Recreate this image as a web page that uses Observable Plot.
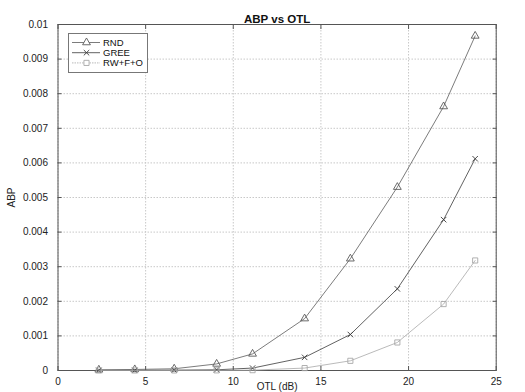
<!DOCTYPE html>
<html>
<head>
<meta charset="utf-8">
<script src="https://cdn.jsdelivr.net/npm/d3@7"></script>
<script src="https://cdn.jsdelivr.net/npm/@observablehq/plot@0.6"></script>
<style>
  body { margin: 0; background: #fff; }
  #wrap { position: relative; width: 525px; height: 392px; overflow: hidden; font-family: "Liberation Sans", Arial, sans-serif; }
  #legend { position: absolute; left: 68px; top: 33px; width: 78px; height: 38px; border: 1px solid #777; background: #fff; }
</style>
</head>
<body>
<div id="wrap"><div id="legend"></div></div>
<script>
const otl = [2.33, 4.38, 6.63, 9.05, 11.1, 14.07, 16.68, 19.36, 22.0, 23.8];
const rnd = [0.00002, 0.00003, 0.00005, 0.00019, 0.00048, 0.0015, 0.00323, 0.0053, 0.00763, 0.00967];
const gree = [0.000003, 0.000004, 0.00001, 0.00002, 0.00007, 0.00038, 0.00104, 0.00236, 0.00436, 0.00612];
const rwfo = [0.000001, 0.000001, 0.000002, 0.000004, 0.00001, 0.00007, 0.00028, 0.00081, 0.00192, 0.00318];
const seriesNames = ["RND", "GREE", "RW+F+O"];
const seriesValues = [rnd, gree, rwfo];
const seriesColors = ["#5a5a5a", "#3a3a3a", "#a8a8a8"];
const seriesSymbols = ["triangle", "times", "square"];
const symbolRadius = [2.9, 2.6, 2.9];
const xTicks = [0, 5, 10, 15, 20, 25];
const yTicks = [0, 0.001, 0.002, 0.003, 0.004, 0.005, 0.006, 0.007, 0.008, 0.009, 0.01];
const titleText = "ABP vs OTL";
const xLabel = "OTL (dB)";
const yLabel = "ABP";

const rows = seriesNames.flatMap((s, i) => otl.map((x, j) => ({series: s, x, y: seriesValues[i][j]})));

const marks = [
  Plot.gridX(xTicks, {stroke: "#c8c8c8", strokeOpacity: 1, strokeDasharray: "1.5,1.5"}),
  Plot.gridY(yTicks, {stroke: "#c8c8c8", strokeOpacity: 1, strokeDasharray: "1.5,1.5"}),
  Plot.frame({stroke: "#555"}),
  Plot.axisX(xTicks, {anchor: "bottom", tickSize: -4, tickPadding: 11, fontSize: 10, fill: "#222", stroke: "#555", label: xLabel, labelAnchor: "center", labelArrow: "none", labelOffset: 19}),
  Plot.axisX(xTicks, {anchor: "top", tickSize: -4, tickFormat: () => "", stroke: "#555", label: null}),
  Plot.axisY(yTicks, {anchor: "left", tickSize: -4, tickPadding: 14, fontSize: 10, fill: "#222", stroke: "#555", tickFormat: d => String(+d.toFixed(3)), label: yLabel, labelAnchor: "center", labelArrow: "none", labelOffset: 50}),
  Plot.axisY(yTicks, {anchor: "right", tickSize: -4, tickFormat: () => "", stroke: "#555", label: null}),
  Plot.text([titleText], {frameAnchor: "top", dy: -10, fontWeight: "bold", fontSize: 11.5, fill: "#111"})
];
seriesNames.forEach((s, i) => {
  const d = rows.filter(r => r.series === s);
  marks.push(Plot.line(d, {x: "x", y: "y", stroke: seriesColors[i], strokeWidth: 0.8}));
  marks.push(Plot.dot(d, {x: "x", y: "y", symbol: seriesSymbols[i], r: symbolRadius[i], stroke: seriesColors[i], fill: "none", strokeWidth: 0.9}));
});

const chart = Plot.plot({
  width: 525, height: 392,
  marginLeft: 57.5, marginRight: 29.3, marginTop: 24, marginBottom: 22,
  style: {fontFamily: "Liberation Sans, Arial, sans-serif", fontSize: "10px", background: "#fff"},
  x: {domain: [0, 25]},
  y: {domain: [0, 0.01]},
  marks
});
document.getElementById("wrap").insertBefore(chart, document.getElementById("legend"));

// legend
const ns = "http://www.w3.org/2000/svg";
const lg = document.createElementNS(ns, "svg");
lg.setAttribute("width", 78); lg.setAttribute("height", 38);
lg.style.fontFamily = "Liberation Sans, Arial, sans-serif";
const symGens = [d3.symbolTriangle, d3.symbolTimes, d3.symbolSquare];
seriesNames.forEach((s, i) => {
  const cy = 8.5 + i * 10.2;
  const line = document.createElementNS(ns, "line");
  line.setAttribute("x1", 3); line.setAttribute("x2", 31); line.setAttribute("y1", cy); line.setAttribute("y2", cy);
  line.setAttribute("stroke", seriesColors[i]); line.setAttribute("stroke-width", 0.8);
  if (i === 2) line.setAttribute("stroke-dasharray", "1.5,1");
  lg.appendChild(line);
  const sym = document.createElementNS(ns, "path");
  const r = symbolRadius[i];
  sym.setAttribute("d", d3.symbol(symGens[i], Math.PI * r * r)());
  sym.setAttribute("transform", `translate(17.5,${cy})`);
  sym.setAttribute("fill", "#fff"); sym.setAttribute("stroke", seriesColors[i]); sym.setAttribute("stroke-width", 0.9);
  lg.appendChild(sym);
  const t = document.createElementNS(ns, "text");
  t.setAttribute("x", 34); t.setAttribute("y", cy); t.setAttribute("dy", "0.35em");
  t.setAttribute("font-size", 9.5); t.setAttribute("fill", "#111");
  t.textContent = s;
  lg.appendChild(t);
});
document.getElementById("legend").appendChild(lg);
</script>
</body>
</html>
